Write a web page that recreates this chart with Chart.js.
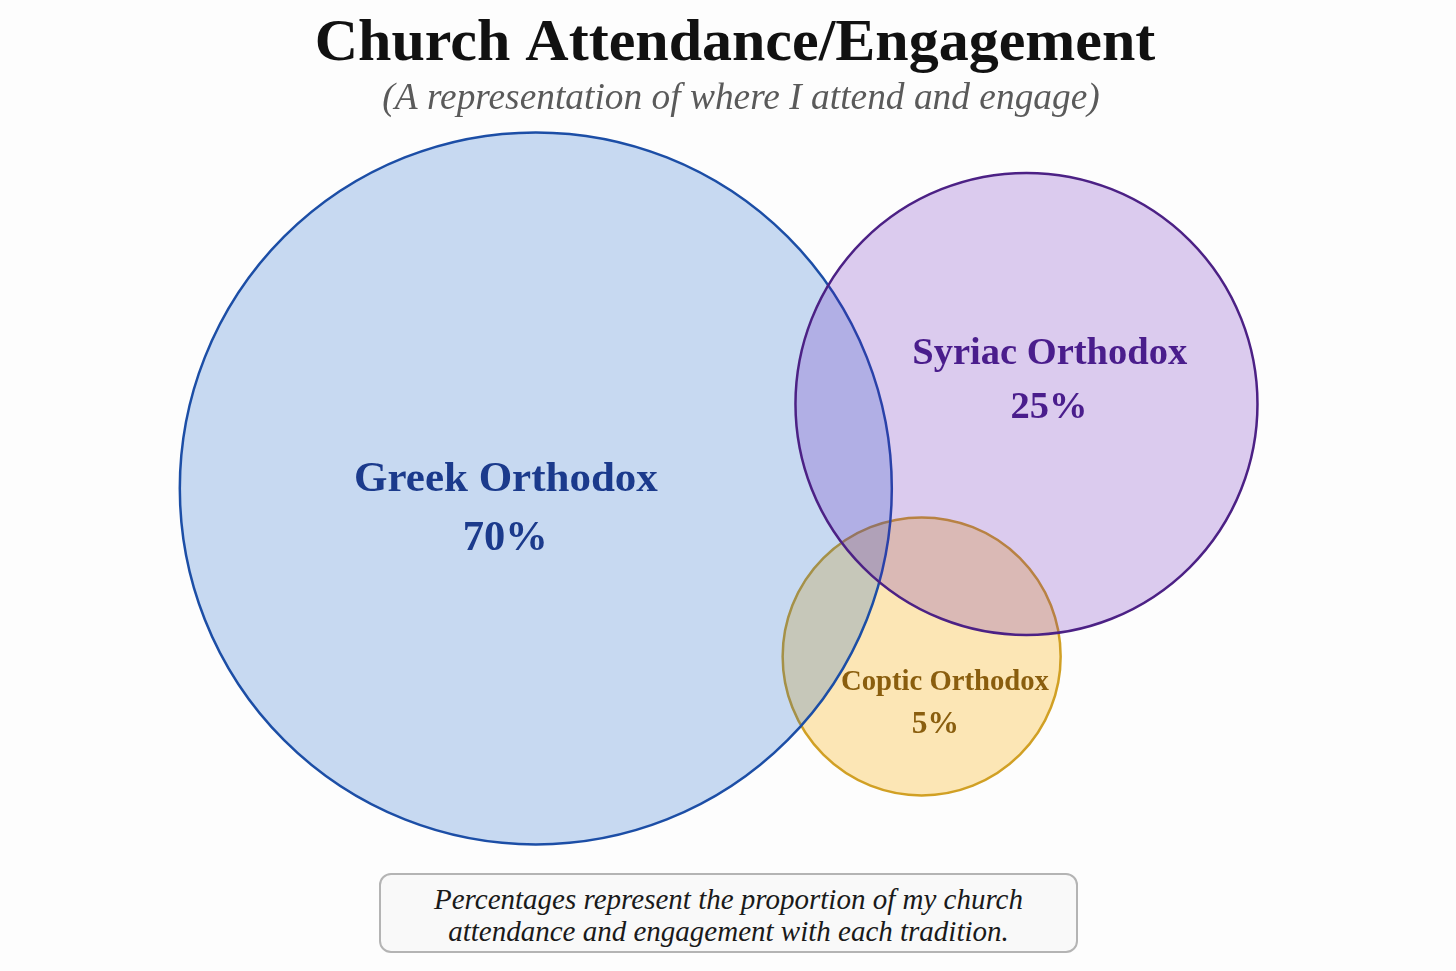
<!DOCTYPE html>
<html>
<head>
<meta charset="utf-8">
<script src="https://cdn.jsdelivr.net/npm/chart.js@4.4.0/dist/chart.umd.min.js"></script>
<style>
    html, body { margin: 0; padding: 0; background: #fdfdfd; }
    #wrap { position: relative; width: 1456px; height: 971px; }
    #note {
        position: absolute; left: 379px; top: 873px; width: 699px; height: 80px;
        box-sizing: border-box; border: 2px solid #b4b4b4; border-radius: 12px;
        background: #f9f9f9; color: #1a1a1a; text-align: center;
        font-family: "Liberation Serif", serif; font-style: italic;
        font-size: 29px; line-height: 32px; padding-top: 8px;
    }
</style>
</head>
<body>
<div id="wrap">
    <canvas id="venn" width="1456" height="971"></canvas>
    <div id="note">Percentages represent the proportion of my church<br>attendance and engagement with each tradition.</div>
</div>
<script>
// traditions, drawn bottom to top: Coptic, Greek, Syriac
const traditions = ["Greek Orthodox", "Syriac Orthodox", "Coptic Orthodox"];
const shares = [70, 25, 5];
// circle centres in percent of the page width / height, radii in px
const centreX = [36.8, 70.5, 63.3];
const centreY = [50.3, 41.6, 67.6];
const radius = [356, 231, 139];
// where the name and the share sit inside each circle
const nameX = [34.75, 72.1, 64.9];
const nameY = [49.4, 36.45, 70.3];
const shareX = [34.7, 72.05, 64.25];
const shareY = [55.5, 42.0, 74.6];

const fills = ["rgba(10, 91, 200, 0.22)", "rgba(93, 17, 184, 0.21)", "rgba(252, 178, 18, 0.3)"];
const borders = ["#1c4ea6", "#4c2185", "#d1a024"];
const textColors = ["#1b3a8c", "#4a1d8c", "#8a5e0e"];
const nameSizes = [43, 38.5, 28.7];
const shareSizes = [42.5, 38.5, 31.5];
const drawOrder = [1, 0, 2];

const serif = "'Liberation Serif', 'DejaVu Serif', serif";

const vennText = {
    id: "vennText",
    beforeDraw(chart) {
        const ctx = chart.ctx;
        ctx.save();
        ctx.fillStyle = "#fdfdfd";
        ctx.fillRect(0, 0, chart.width, chart.height);
        ctx.restore();
    },
    afterDraw(chart) {
        const ctx = chart.ctx;
        const x = chart.scales.x, y = chart.scales.y;
        ctx.save();
        ctx.textAlign = "center";
        ctx.textBaseline = "middle";

        ctx.fillStyle = "#111";
        ctx.font = "bold 60px " + serif;
        ctx.fillText("Church Attendance/Engagement", chart.width / 2 + 7, 44);
        ctx.fillStyle = "#5a5a5a";
        ctx.font = "italic 37.4px " + serif;
        ctx.fillText("(A representation of where I attend and engage)", chart.width / 2 + 13, 99);

        traditions.forEach((name, i) => {
            ctx.fillStyle = textColors[i];
            ctx.font = "bold " + nameSizes[i] + "px " + serif;
            ctx.fillText(name, x.getPixelForValue(nameX[i]), y.getPixelForValue(nameY[i]));
            ctx.font = "bold " + shareSizes[i] + "px " + serif;
            ctx.fillText(shares[i] + "%", x.getPixelForValue(shareX[i]), y.getPixelForValue(shareY[i]));
        });
        ctx.restore();
    }
};

new Chart(document.getElementById("venn"), {
    type: "bubble",
    data: {
        datasets: traditions.map((name, i) => ({
            label: name,
            data: [{x: centreX[i], y: centreY[i], r: radius[i]}],
            backgroundColor: fills[i],
            borderColor: borders[i],
            borderWidth: 2.5,
            hoverRadius: 0,
            order: drawOrder[i],
            clip: false,
        }))
    },
    options: {
        responsive: false,
        animation: false,
        layout: { padding: 0, autoPadding: false },
        plugins: { legend: { display: false }, tooltip: { enabled: false } },
        scales: {
            x: { type: "linear", min: 0, max: 100, display: false },
            y: { type: "linear", min: 0, max: 100, reverse: true, display: false },
        },
    },
    plugins: [vennText]
});
</script>
</body>
</html>
